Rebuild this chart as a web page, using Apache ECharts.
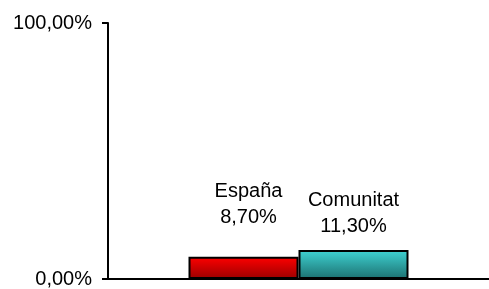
<!DOCTYPE html>
<html lang="es">
<head>
  <meta charset="UTF-8">
  <title>España / Comunitat</title>
  <script src="https://cdn.jsdelivr.net/npm/echarts@6/dist/echarts.min.js"></script>
</head>
<body style="margin:0;background:#fff">
  <div id="main" style="width:489px;height:289px;"></div>
  <script type="text/javascript">
    // datos
    const seriesNames = ['España', 'Comunitat']
    const seriesValues = [8.7, 11.3]
    const yTicks = [0, 100]

    const fmt = v => v.toFixed(2).replace('.', ',') + '%'

    const fills = [
      ['#ff0000', '#9a0000'],
      ['#3fd3d3', '#1c7070']
    ]
    const labelDist = [26, 11]
    const labelShift = [5, 0]

    var myChart = echarts.init(document.getElementById('main'))

    const series = seriesNames.map((name, i) => ({
      name: name,
      type: 'bar',
      barWidth: 110,
      barGap: 0,
      data: [seriesValues[i]],
      itemStyle: {
        borderColor: '#000',
        borderWidth: 2,
        color: new echarts.graphic.LinearGradient(0, 0, 0, 1, [
          { offset: 0, color: fills[i][0] },
          { offset: 1, color: fills[i][1] }
        ])
      },
      label: {
        show: true,
        position: 'top',
        distance: labelDist[i],
        offset: [labelShift[i], 0],
        formatter: () => name + '\n' + fmt(seriesValues[i]),
        fontFamily: 'Liberation Sans, Arial',
        fontSize: 20,
        lineHeight: 26,
        color: '#000'
      }
    }))

    myChart.setOption({
      animation: false,
      grid: { left: 108, top: 23, width: 388, bottom: 8 },
      xAxis: {
        type: 'category',
        data: [''],
        axisLine: { lineStyle: { color: '#000', width: 2 } },
        axisTick: { show: false },
        axisLabel: { show: false }
      },
      yAxis: {
        type: 'value',
        min: yTicks[0],
        max: yTicks[yTicks.length - 1],
        interval: 100,
        splitLine: { show: false },
        axisLine: { show: true, lineStyle: { color: '#000', width: 2 } },
        axisTick: { show: true, length: 6, lineStyle: { color: '#000', width: 2 } },
        axisLabel: {
          formatter: v => fmt(v),
          fontFamily: 'Liberation Sans, Arial',
          fontSize: 20,
          color: '#000',
          margin: 16
        }
      },
      series: series
    })
  </script>
</body>
</html>
